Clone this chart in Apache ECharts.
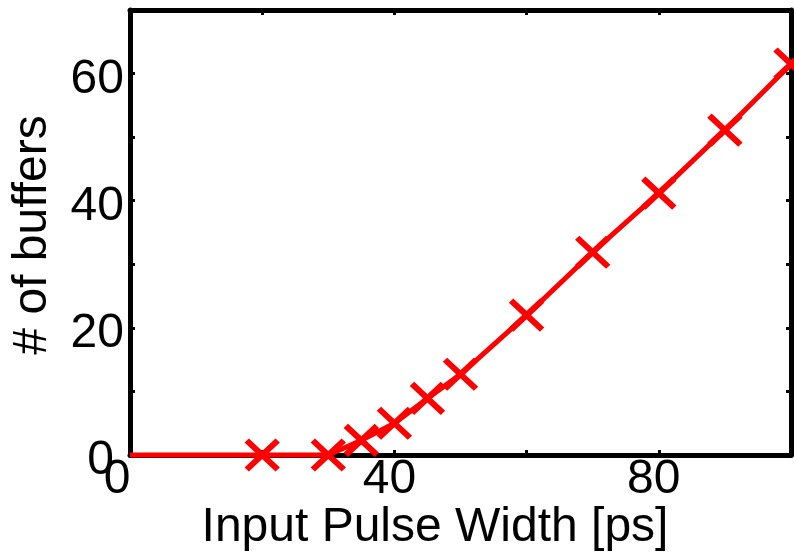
<!DOCTYPE html>
<html>
<head>
<meta charset="utf-8">
<script src="https://cdn.jsdelivr.net/npm/echarts@6/dist/echarts.min.js"></script>
<style>html,body{margin:0;padding:0;background:#fff}#c{width:794px;height:556px}</style>
</head>
<body>
<div id="c"></div>
<script>
const pulseWidth = [0, 20, 30, 35, 40, 45, 50, 60, 70, 80, 90, 100];
const buffers    = [0, 0, 0, 2.3, 5.0, 8.9, 12.7, 22.0, 31.9, 41.2, 51.1, 61.5];
const markerShown = [false, true, true, true, true, true, true, true, true, true, true, true];
const xLabeled = [0, 40, 80];
const yLabeled = [0, 20, 40, 60];
const xTitle = 'Input Pulse Width [ps]';
const yTitle = '# of buffers';

const FONT = '"Liberation Sans", Arial, sans-serif';
const chart = echarts.init(document.getElementById('c'), null, {renderer: 'canvas'});
const data = pulseWidth.map((x, i) => ({
  value: [x, buffers[i]],
  symbol: markerShown[i] ? 'path://M0,0L10,10M10,0L0,10' : 'none'
}));
const tickStyle = {show: true, inside: true, length: 5, lineStyle: {color: '#000', width: 3}};
const lineStyle = {show: true, lineStyle: {color: '#000', width: 5}};
const lbl = {fontFamily: FONT, fontSize: 48, color: '#000'};
chart.setOption({
  animation: false,
  backgroundColor: '#fff',
  grid: {left: 130, right: 3, top: 10, bottom: 101, containLabel: false},
  xAxis: [
    {type: 'value', min: 0, max: 100, interval: 20, position: 'bottom',
     axisLine: Object.assign({onZero: false}, lineStyle), axisTick: tickStyle, splitLine: {show: false},
     axisLabel: {margin: 1, fontFamily: FONT, fontSize: 48, color: '#000',
       formatter: v => v === 0 ? '{z|0}' : (xLabeled.includes(v) ? '{n|' + v + '}' : ''),
       rich: {z: Object.assign({padding: [0, 26, 0, 0]}, lbl),
              n: Object.assign({padding: [0, 10, 0, 0]}, lbl)}}},
    {type: 'value', min: 0, max: 100, interval: 20, position: 'top',
     axisLine: Object.assign({onZero: false}, lineStyle), axisTick: tickStyle, axisLabel: {show: false}, splitLine: {show: false}}
  ],
  yAxis: [
    {type: 'value', min: 0, max: 70, interval: 10, position: 'left',
     axisLine: Object.assign({onZero: false}, lineStyle), axisTick: tickStyle, splitLine: {show: false},
     axisLabel: {margin: 6, fontFamily: FONT, fontSize: 48, color: '#000',
       formatter: v => v === 0 ? '{z|0}' : (yLabeled.includes(v) ? '{n|' + v + '}' : ''),
       rich: {z: Object.assign({padding: [12, 10, 0, 0]}, lbl),
              n: Object.assign({padding: [12, 0, 0, 0]}, lbl)}}},
    {type: 'value', min: 0, max: 70, interval: 10, position: 'right',
     axisLine: Object.assign({onZero: false}, lineStyle), axisTick: tickStyle, axisLabel: {show: false}, splitLine: {show: false}}
  ],
  series: [{
    type: 'line', data: data, xAxisIndex: 0, yAxisIndex: 0,
    symbolSize: [31, 29], clip: false,
    lineStyle: {color: '#ff0000', width: 5},
    itemStyle: {color: 'none', borderColor: '#ff0000', borderWidth: 6},
    emphasis: {disabled: true}
  }],
  graphic: [
    {type: 'text', x: 435, y: 528, style: {text: xTitle, font: '48px ' + FONT, fill: '#000', align: 'center', verticalAlign: 'middle'}},
    {type: 'text', x: 33, y: 235, rotation: Math.PI / 2, style: {text: yTitle, font: '48px ' + FONT, fill: '#000', align: 'center', verticalAlign: 'middle'}}
  ]
});
</script>
</body>
</html>
